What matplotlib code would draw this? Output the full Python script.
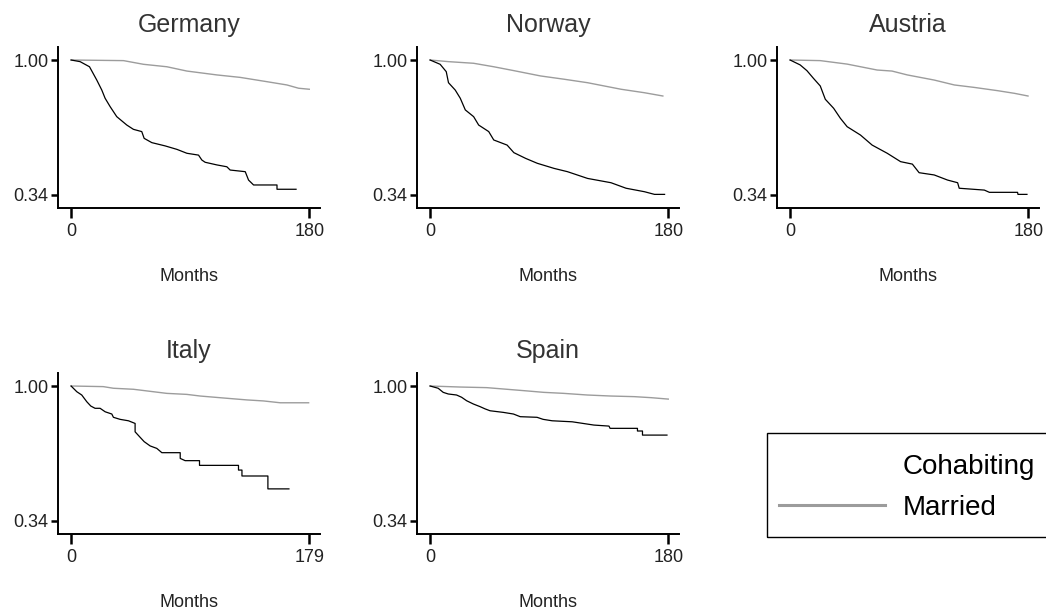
import matplotlib
matplotlib.use("Agg")
import matplotlib.pyplot as plt
from matplotlib.lines import Line2D
from matplotlib.patches import Rectangle

plt.rcParams["font.family"] = ["Liberation Sans", "DejaVu Sans"]

# Kaplan-Meier survival estimates (months since union start, proportion intact)
germany_cohab_t = [0, 6.8, 13.9, 19.4, 23.2, 25.7, 29.5, 34.5, 42.1, 47.1, 53.4, 55.2, 61.0,
                   71.1, 80.0, 87.5, 96.3, 98.8, 101.3, 110.2, 117.7, 120.2, 131.6, 134.1,
                   137.9, 155.6, 155.6, 170.0]
germany_cohab_s = [1.0, 0.992, 0.967, 0.902, 0.853, 0.813, 0.772, 0.723, 0.682, 0.661, 0.650,
                   0.617, 0.596, 0.580, 0.563, 0.544, 0.535, 0.511, 0.500, 0.487, 0.478, 0.462,
                   0.454, 0.413, 0.389, 0.389, 0.368, 0.368]
germany_marr_t = [0, 39.6, 54.7, 72.4, 87.5, 110.2, 127.8, 148.0, 163.1, 171.9, 180.0]
germany_marr_s = [1.0, 0.997, 0.979, 0.967, 0.946, 0.927, 0.915, 0.894, 0.878, 0.862, 0.857]

norway_cohab_t = [0, 7.6, 12.2, 13.9, 19.0, 22.8, 26.6, 32.9, 36.7, 44.3, 48.1, 58.2, 63.3,
                  72.2, 81.0, 93.7, 103.8, 119.0, 136.7, 148.1, 162.0, 169.6, 177.2]
norway_cohab_s = [1.0, 0.979, 0.943, 0.889, 0.853, 0.813, 0.756, 0.723, 0.682, 0.650, 0.609,
                  0.584, 0.547, 0.519, 0.495, 0.470, 0.454, 0.421, 0.400, 0.373, 0.356, 0.343,
                  0.343]
norway_marr_t = [0, 13.9, 32.9, 48.1, 63.3, 83.5, 101.3, 119.0, 144.3, 162.0, 175.9]
norway_marr_s = [1.0, 0.992, 0.984, 0.967, 0.948, 0.922, 0.906, 0.889, 0.857, 0.840, 0.824]

austria_cohab_t = [0, 7.6, 12.7, 17.7, 22.8, 26.6, 32.9, 38.0, 43.1, 53.2, 62.0, 73.4, 83.5,
                   92.4, 97.5, 108.9, 119.0, 126.6, 127.8, 146.8, 150.6, 171.9, 172.2, 179.0]
austria_cohab_s = [1.0, 0.976, 0.948, 0.910, 0.873, 0.808, 0.764, 0.715, 0.674, 0.633, 0.584,
                   0.544, 0.503, 0.491, 0.449, 0.438, 0.413, 0.400, 0.373, 0.364, 0.353, 0.353,
                   0.343, 0.343]
austria_marr_t = [0, 22.8, 43.1, 65.8, 77.0, 88.6, 108.9, 124.1, 139.2, 156.9, 169.6, 179.8]
austria_marr_s = [1.0, 0.997, 0.980, 0.951, 0.946, 0.927, 0.902, 0.878, 0.866, 0.850, 0.837,
                  0.824]

italy_cohab_t = [0, 4.3, 8.0, 11.8, 14.8, 18.0, 21.8, 25.6, 30.6, 31.8, 36.8, 43.1, 48.1, 48.1,
                 51.9, 54.9, 59.4, 64.4, 68.2, 82.0, 82.0, 85.7, 96.5, 96.5, 125.8, 125.8,
                 128.4, 128.4, 147.9, 147.9, 163.7]
italy_cohab_s = [1.0, 0.972, 0.956, 0.923, 0.902, 0.891, 0.891, 0.874, 0.863, 0.847, 0.837,
                 0.830, 0.817, 0.776, 0.749, 0.728, 0.707, 0.695, 0.674, 0.674, 0.646, 0.635,
                 0.635, 0.612, 0.612, 0.589, 0.589, 0.560, 0.560, 0.497, 0.497]
italy_marr_t = [0, 24.2, 31.8, 46.9, 56.9, 71.9, 87.0, 97.0, 117.1, 132.1, 144.6, 157.2, 178.5]
italy_marr_s = [1.0, 0.997, 0.989, 0.984, 0.976, 0.964, 0.959, 0.951, 0.940, 0.932, 0.927,
                0.918, 0.918]

spain_cohab_t = [0, 6.1, 9.9, 13.7, 20.0, 23.8, 27.6, 32.7, 37.8, 41.6, 45.3, 55.4, 63.0, 68.1,
                 80.8, 85.4, 92.2, 107.4, 123.8, 135.2, 136.0, 156.7, 156.7, 160.5, 160.5,
                 179.0]
spain_cohab_s = [1.0, 0.989, 0.969, 0.961, 0.956, 0.945, 0.928, 0.912, 0.899, 0.888, 0.879,
                 0.871, 0.863, 0.850, 0.847, 0.837, 0.830, 0.825, 0.809, 0.804, 0.793, 0.793,
                 0.780, 0.780, 0.760, 0.760]
spain_marr_t = [0, 22.6, 42.8, 58.0, 73.2, 85.8, 101.0, 118.8, 136.5, 154.2, 167.0, 180.0]
spain_marr_s = [1.0, 0.995, 0.992, 0.984, 0.976, 0.969, 0.964, 0.956, 0.951, 0.948, 0.943,
                0.936]

countries = ["Germany", "Norway", "Austria", "Italy", "Spain"]
max_months = [180, 180, 180, 179, 180]
y_ticks = [0.34, 1.00]
group_labels = ["Cohabiting", "Married"]
curves = {
    "Germany": (germany_cohab_t, germany_cohab_s, germany_marr_t, germany_marr_s),
    "Norway": (norway_cohab_t, norway_cohab_s, norway_marr_t, norway_marr_s),
    "Austria": (austria_cohab_t, austria_cohab_s, austria_marr_t, austria_marr_s),
    "Italy": (italy_cohab_t, italy_cohab_s, italy_marr_t, italy_marr_s),
    "Spain": (spain_cohab_t, spain_cohab_s, spain_marr_t, spain_marr_s),
}

W, H = 1046, 612
fig = plt.figure(figsize=(W / 100, H / 100), dpi=100)

# panel boxes in pixels: left, top
panel_px = [(58, 47), (417, 47), (777, 47), (58, 373), (417, 373)]
pw, ph = 262, 161

married_color = "#9c9c9c"
text_color = "#222222"

for name, mx, (lx, ty) in zip(countries, max_months, panel_px):
    ax = fig.add_axes([lx / W, 1 - (ty + ph) / H, pw / W, ph / H])
    ct, cs, mt, ms = curves[name]
    ax.plot(mt, ms, color=married_color, lw=1.0)
    ax.plot(ct, cs, color="black", lw=0.9)

    ymin, ymax = y_ticks
    margin = 0.0636
    ax.set_ylim(ymin - margin, ymax + margin)
    ax.set_xlim(-0.055 * mx, 1.045 * mx)
    ax.set_yticks(y_ticks)
    ax.set_yticklabels([f"{v:.2f}" for v in y_ticks])
    ax.set_xticks([0, mx])
    ax.set_xticklabels(["0", str(mx)])

    for side in ("top", "right"):
        ax.spines[side].set_visible(False)
    for side in ("left", "bottom"):
        ax.spines[side].set_linewidth(1.4)
        ax.spines[side].set_color("black")
    ax.tick_params(axis="y", length=5, width=1.8, labelsize=13, colors="black",
                   labelcolor=text_color, pad=2)
    ax.tick_params(axis="x", length=7, width=1.8, labelsize=13, colors="black",
                   labelcolor=text_color, pad=4)

    ax.set_title(name, fontsize=18, color="#333333", pad=11)
    ax.set_xlabel("Months", fontsize=13, color=text_color, labelpad=20)

# legend frame runs off the right edge of the figure
fig.add_artist(Rectangle((767 / W, 1 - 537 / H), (1060 - 767) / W, (537 - 433) / H,
                         transform=fig.transFigure, fill=False, edgecolor="black",
                         lw=1.0, clip_on=False))

handles = [
    Line2D([], [], color="black", lw=0),
    Line2D([], [], color=married_color, lw=2.2),
]
fig.legend(handles, group_labels, loc="upper left",
           bbox_to_anchor=(779 / W, 1 - 454 / H), borderaxespad=0, borderpad=0,
           fontsize=20, frameon=False, handlelength=3.8, handletextpad=0.65,
           labelspacing=0.54)

fig.savefig("out.png", dpi=100)
